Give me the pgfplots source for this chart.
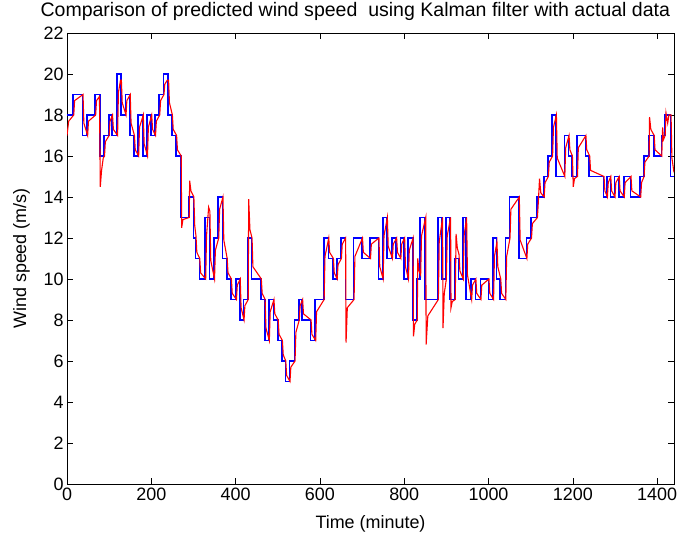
\documentclass[border=0pt]{standalone}
\usepackage{pgfplots}
\pgfplotsset{compat=1.18}
\usepackage{fontspec}
\setmainfont{Liberation Sans}

\begin{document}
\begin{tikzpicture}
\begin{axis}[
    scale only axis,
    width=607bp, height=451bp,
    xmin=0, xmax=1440, ymin=0, ymax=22,
    xtick={0,200,...,1400},
    ytick={0,2,...,22},
    tick align=inside,
    major tick length=6bp,
    axis line style={line width=0.6bp},
    every tick/.style={black, line width=0.6bp},
    /pgf/number format/assume math mode=true,
    /pgf/number format/set thousands separator={},
    tick label style={font=\fontsize{18}{20}\selectfont},
    label style={font=\fontsize{18}{20}\selectfont},
    every axis title/.style={font=\fontsize{19.6}{22}\selectfont, inner sep=0pt,
        anchor=base, at={(axis description cs:0.475,1.0355)}},
    xlabel style={inner sep=0pt, anchor=base, at={(axis description cs:0.5,-0.0976)}},
    ylabel style={inner sep=0pt, anchor=base, at={(axis description cs:-0.0675,0.5)}},
    title={Comparison of predicted wind speed\ \ using Kalman filter with actual data},
    xlabel={Time (minute)},
    ylabel={Wind speed (m/s)},
]
% actual (measured) wind speed, minute values
\addplot[blue, line width=1.7bp, const plot] coordinates {
(0,18)(15,19)(37,17)(48,18)(67,19)(78,16)(88,17)(99,18)(107,17)(119,20)(128,18)(139,19)(149,17)(159,16)(169,18)(180,16)(190,18)(200,17)(209,18)(219,19)(229,20)(240,18)(249,17)(259,16)(270,13)(289,14)(300,12)(305,11)(314,10)(328,13)(338,10)(349,12)(359,14)(369,11)(379,10)(389,9)(401,10)(410,8)(419,9)(429,12)(438,10)(460,9)(469,7)(479,9)(490,8)(500,7)(510,6)(518,5)(528,6)(540,8)(550,9)(558,8)(578,7)(589,9)(609,12)(620,11)(631,10)(640,11)(650,12)(661,9)(680,12)(700,11)(719,12)(739,10)(749,13)(759,11)(771,12)(781,11)(791,12)(800,10)(809,12)(820,8)(830,10)(838,13)(850,9)(880,13)(890,10)(899,13)(909,9)(920,11)(929,10)(939,13)(947,9)(959,10)(969,9)(981,10)(1000,9)(1011,12)(1019,10)(1028,9)(1040,12)(1050,14)(1072,11)(1090,12)(1101,13)(1115,14)(1131,15)(1141,16)(1151,18)(1160,15)(1180,17)(1190,16)(1198,15)(1210,17)(1230,16)(1239,15)(1273,14)(1281,15)(1289,14)(1299,15)(1309,14)(1321,15)(1337,14)(1360,15)(1368,16)(1380,17)(1392,16)(1410,17)(1418,18)(1432,15)(1440,15)
};
% Kalman filter prediction
\addplot[red, line width=1.1bp] coordinates {
(0,17.0)(4,17.7)(16,18.0)(18,18.7)(38,19.0)(40,17.6)(49,17.0)(51,17.7)(68,18.0)(70,18.7)(77,18.9)(79,14.5)(82,15.3)(86,15.9)(89,16.0)(91,16.7)(100,17.0)(102,17.7)(108,18.0)(110,17.3)(120,17.0)(122,19.1)(127,19.7)(129,19.7)(131,18.6)(140,18.0)(142,18.7)(150,19.0)(152,17.6)(160,17.0)(162,16.3)(170,16.0)(172,17.4)(181,18.0)(183,16.6)(191,16.0)(193,17.4)(201,18.0)(203,17.3)(210,17.0)(212,17.7)(220,18.0)(222,18.7)(230,19.0)(232,19.5)(238,19.7)(241,19.7)(243,18.6)(250,18.0)(252,17.3)(260,17.0)(262,16.3)(271,16.0)(272,12.5)(275,12.9)(290,13.0)(291,14.8)(294,14.3)(301,14.0)(303,12.6)(306,12.1)(308,11.3)(315,11.0)(317,10.3)(329,10.0)(331,12.1)(336,13.5)(339,13.3)(341,10.9)(350,10.0)(352,11.4)(360,12.0)(362,13.4)(370,14.0)(372,11.9)(380,11.0)(382,10.3)(390,10.0)(392,9.3)(402,9.0)(404,9.7)(411,10.0)(413,8.6)(420,8.0)(422,8.7)(430,9.0)(431,13.9)(434,12.4)(439,12.0)(441,10.6)(461,10.0)(463,9.3)(470,9.0)(472,7.6)(480,7.0)(482,8.4)(491,9.0)(493,8.3)(501,8.0)(503,7.3)(511,7.0)(513,6.3)(519,6.0)(521,5.3)(529,5.0)(531,5.7)(541,6.0)(543,7.4)(551,8.0)(553,8.7)(559,9.0)(561,8.3)(579,8.0)(581,7.3)(590,7.0)(592,8.4)(610,9.0)(612,11.1)(621,12.0)(623,11.3)(632,11.0)(634,10.3)(641,10.0)(643,10.7)(651,11.0)(653,11.7)(661,12.0)(662,6.9)(665,8.6)(681,9.0)(683,11.1)(701,12.0)(703,11.3)(720,11.0)(722,11.7)(740,12.0)(742,10.6)(750,10.0)(752,12.1)(760,13.0)(762,11.6)(772,11.0)(774,11.7)(782,12.0)(784,11.3)(792,11.0)(794,11.7)(801,12.0)(803,10.6)(810,10.0)(812,11.4)(821,12.0)(822,7.2)(825,7.8)(831,8.0)(832,11.0)(835,10.4)(839,10.2)(841,12.1)(851,13.0)(852,6.8)(856,8.2)(881,9.0)(883,11.8)(891,13.0)(892,7.6)(895,9.3)(900,10.0)(902,12.1)(910,13.0)(911,8.6)(914,8.9)(921,9.0)(923,12.2)(926,11.5)(930,11.2)(932,10.4)(940,10.0)(942,12.1)(948,13.0)(950,10.2)(960,9.0)(962,9.7)(970,10.0)(972,9.3)(982,9.0)(984,9.7)(1001,10.0)(1003,9.3)(1012,9.0)(1014,11.1)(1020,11.8)(1022,10.6)(1029,10.0)(1031,9.3)(1041,9.0)(1043,11.1)(1051,12.0)(1053,13.4)(1073,14.0)(1075,11.9)(1091,11.0)(1093,11.7)(1102,12.0)(1104,12.7)(1116,13.0)(1118,13.7)(1121,14.9)(1124,14.2)(1132,14.0)(1134,14.7)(1142,15.0)(1144,15.7)(1152,16.0)(1154,17.4)(1161,18.0)(1163,15.9)(1181,15.0)(1183,16.4)(1191,17.0)(1193,16.3)(1199,16.0)(1201,14.5)(1204,14.9)(1211,15.0)(1213,16.4)(1231,17.0)(1233,16.3)(1240,16.0)(1242,15.3)(1274,15.0)(1276,14.3)(1282,14.0)(1284,14.7)(1290,15.0)(1292,14.3)(1300,14.0)(1302,14.7)(1310,15.0)(1312,14.3)(1322,14.0)(1324,14.7)(1338,15.0)(1340,14.3)(1361,14.0)(1363,14.7)(1369,15.0)(1371,15.7)(1381,16.0)(1382,17.9)(1385,17.3)(1393,17.0)(1395,16.3)(1411,16.0)(1413,17.4)(1415,16.8)(1419,17.0)(1421,18.1)(1425,17.6)(1428,18.0)(1433,18.0)(1435,15.9)(1440,15.2)
};
\end{axis}
\pgfresetboundingbox
\path[use as bounding box] (-67bp,-56bp) rectangle (612bp,484bp);
\end{tikzpicture}
\end{document}
